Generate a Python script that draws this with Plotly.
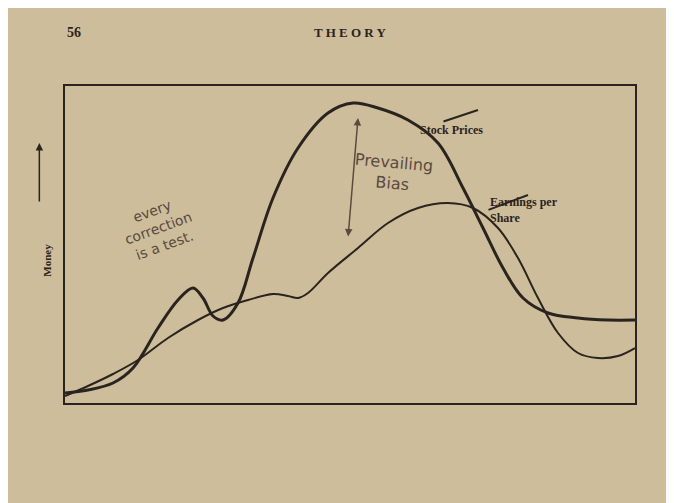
import plotly.graph_objects as go

# x positions along the time axis, money values (arbitrary units)
stock_x = [57, 80, 105, 125, 150, 170, 185, 195, 205, 215, 230, 245, 265, 290, 320, 345,
           370, 400, 430, 455, 475, 495, 515, 540, 570, 600, 627]
stock_y = [15, 18, 25, 40, 80, 108, 120, 110, 92, 88, 105, 150, 210, 260, 295, 305,
           300, 288, 265, 220, 180, 140, 110, 95, 90, 88, 88]
eps_x = [57, 80, 105, 130, 160, 190, 215, 240, 265, 280, 290, 300, 320, 350, 380, 410,
         440, 465, 490, 510, 530, 550, 570, 590, 610, 627]
eps_y = [12, 22, 34, 48, 70, 88, 100, 108, 114, 112, 110, 115, 135, 160, 185, 200,
         205, 200, 180, 150, 110, 75, 55, 50, 52, 60]
tick_x = [57, 105, 185, 213, 274, 330, 424, 537, 625]
tick_labels = ["A", "B", "C", "D", "E", "F", "G", "H", "I"]
label_drop = [0, 3, 15, 17, 23, 35, 42, 46, 46]

ink = "#2a2420"
fig = go.Figure()
fig.add_trace(go.Scatter(x=stock_x, y=stock_y, mode="lines", line=dict(color=ink, width=3, shape="spline")))
fig.add_trace(go.Scatter(x=eps_x, y=eps_y, mode="lines", line=dict(color=ink, width=2, shape="spline")))

ann = []
for tx, lab, d in zip(tick_x, tick_labels, label_drop):
    ann.append(dict(x=tx, y=-20 - d, text=lab, showarrow=False, font=dict(size=11, family="Liberation Serif", color=ink)))
    fig.add_shape(type="line", x0=tx, x1=tx, y0=5, y1=-10, line=dict(color=ink, width=1.5))

serif = dict(family="Liberation Serif", color=ink)
hand = dict(family="DejaVu Sans", color="#5a4a42")
ann += [
    dict(x=470, y=298, text="<b>Stock Prices</b>", ax=-60, ay=20, font=dict(size=12, **serif), xanchor="left",
         arrowcolor=ink, arrowwidth=2),
    dict(x=520, y=213, text="<b>Earnings per<br>Share</b>", ax=-40, ay=15, font=dict(size=12, **serif), xanchor="left",
         align="left", arrowcolor=ink, arrowwidth=2),
    dict(x=150, y=180, text="every<br>correction<br>is a test.", showarrow=False, textangle=-20,
         font=dict(size=14, **hand)),
    dict(x=385, y=235, text="Prevailing<br>Bias", showarrow=False, xanchor="center", font=dict(size=16, **hand), textangle=5),
    dict(x=350, y=290, ax=340, ay=170, axref="x", ayref="y", text="", arrowhead=2, arrowside="end+start",
         arrowcolor="#5a4a42", arrowwidth=1.5),
    dict(xref="paper", yref="paper", x=0.0, y=1.2, text="<b>56</b>", showarrow=False, xanchor="left", font=dict(size=14, **serif)),
    dict(xref="paper", yref="paper", x=0.5, y=1.2, text="<b>T H E O R Y</b>", showarrow=False, font=dict(size=13, **serif)),
    dict(xref="paper", yref="paper", x=-0.045, y=0.45, text="<b>Money</b>", textangle=-90, showarrow=False,
         font=dict(size=11, **serif)),
    dict(xref="paper", yref="paper", x=-0.045, y=0.82, ax=0, ay=60, text="",
         arrowhead=2, arrowcolor=ink, arrowwidth=1.5),
    dict(x=320, y=-70, text="<b>Time</b>", showarrow=False, font=dict(size=12, **serif)),
    dict(x=420, y=-75, ax=345, ay=-73, axref="x", ayref="y", text="", arrowhead=2, arrowcolor=ink, arrowwidth=1.5),
]

fig.update_layout(
    width=674, height=503, margin=dict(l=57, r=47, t=78, b=108),
    paper_bgcolor="#cdbd9a", plot_bgcolor="#cdbd9a", showlegend=False, annotations=ann,
    xaxis=dict(range=[57, 627], showgrid=False, zeroline=False, showticklabels=False, ticks="",
               showline=True, mirror=True, linecolor=ink, linewidth=2),
    yaxis=dict(range=[5, 322], showgrid=False, zeroline=False, showticklabels=False, ticks="",
               showline=True, mirror=True, linecolor=ink, linewidth=2),
)
fig.write_html("out.html")
